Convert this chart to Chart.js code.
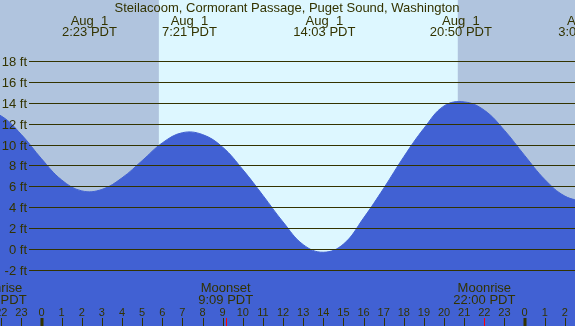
<!DOCTYPE html>
<html><head><meta charset="utf-8">
<style>html,body{margin:0;padding:0;background:#fff;overflow:hidden}#wrap{width:575px;height:326px}</style>
<script src="https://cdn.jsdelivr.net/npm/chart.js@4/dist/chart.umd.min.js"></script>
</head><body><div id="wrap"><canvas id="c" width="575" height="326"></canvas></div>
<script>
const title = 'Steilacoom, Cormorant Passage, Puget Sound, Washington';
// tide height at each hour (hours from Aug 1 00:00, feet)
const tideHours = [-3, -2, -1, 0, 1, 2, 3, 4, 5, 6, 7, 8, 9, 10, 11, 12, 13, 14, 15, 16, 17, 18, 19, 20, 21, 22, 23, 24, 25, 26, 27];
const tideFeet  = [13.4, 12.78, 11.0, 8.68, 6.65, 5.6, 5.74, 6.85, 8.5, 10.2, 11.18, 11.0, 9.79, 7.64, 5.17, 2.62, 0.45, -0.28, 0.5, 3.0, 5.85, 8.88, 11.6, 13.75, 14.13, 13.33, 11.4, 9.0, 6.7, 5.1, 4.55];
const extremeHours = [2.383, 7.35, 14.05, 20.833, 27.033];
const extremeDates = ['Aug  1', 'Aug  1', 'Aug  1', 'Aug  1', 'Aug  2'];
const extremeTimes = ['2:23 PDT', '7:21 PDT', '14:03 PDT', '20:50 PDT', '3:02 PDT'];
const moonHours = [-2.283, 9.15, 22.0];
const moonNames = ['Moonrise', 'Moonset', 'Moonrise'];
const moonTimes = ['21:43 PDT', '9:09 PDT', '22:00 PDT'];
const sunHours = [5.83, 20.68];
const hourTicks = [];
for (let h = -2; h <= 26; h++) hourTicks.push(h);
const yTicks = [-2, 0, 2, 4, 6, 8, 10, 12, 14, 16, 18];
const xRange = [-2.062, 26.503];
const yRange = [-7.35, 23.90];

const TXT = '#333300';
const FONT13 = '13px "Liberation Sans", Arial, sans-serif';
const FONT11 = '11px "Liberation Sans", Arial, sans-serif';

const tidePlugin = {
  id: 'tidePlugin',
  beforeDatasetsDraw(chart) {
    const ctx = chart.ctx, xs = chart.scales.x;
    ctx.save();
    ctx.fillStyle = '#b0c4de';
    ctx.fillRect(0, 0, chart.width, chart.height);
    const x1 = xs.getPixelForValue(sunHours[0]);
    const x2 = xs.getPixelForValue(sunHours[1]);
    ctx.fillStyle = '#ddf7ff';
    ctx.fillRect(x1, 0, x2 - x1, chart.height);
    ctx.restore();
  },
  afterDatasetsDraw(chart) {
    const ctx = chart.ctx, xs = chart.scales.x, ys = chart.scales.y;
    ctx.save();
    ctx.strokeStyle = TXT;
    ctx.lineWidth = 1;
    ctx.fillStyle = TXT;
    ctx.font = FONT13;
    ctx.textAlign = 'right';
    ctx.textBaseline = 'alphabetic';
    yTicks.forEach(v => {
      const y = Math.floor(ys.getPixelForValue(v)) + 0.5;
      ctx.beginPath();
      ctx.moveTo(29, y);
      ctx.lineTo(chart.width, y);
      ctx.stroke();
      ctx.fillText(v + ' ft', 27, y + 4);
    });
    ctx.textAlign = 'center';
    ctx.fillText(title, 287, 12);
    extremeHours.forEach((h, i) => {
      const x = xs.getPixelForValue(h);
      ctx.fillText(extremeDates[i], x, 24.5);
      ctx.fillText(extremeTimes[i], x, 35.5);
    });
    moonHours.forEach((h, i) => {
      const x = xs.getPixelForValue(h);
      ctx.fillText(moonNames[i], x, 291.5);
      ctx.fillText(moonTimes[i], x, 303.5);
    });
    ctx.font = FONT11;
    hourTicks.forEach(h => {
      const x = xs.getPixelForValue(h);
      const lab = String(((h % 24) + 24) % 24);
      ctx.fillText(lab, x, 316);
      if (lab === '0') {
        ctx.fillRect(Math.round(x) - 1.5, 318, 3, 8);
      } else {
        const px = Math.round(x) + 0.5;
        ctx.beginPath();
        ctx.moveTo(px, 318);
        ctx.lineTo(px, 326);
        ctx.stroke();
      }
    });
    ctx.strokeStyle = '#ff0000';
    moonHours.forEach(h => {
      const px = Math.round(xs.getPixelForValue(h)) + 0.5;
      ctx.beginPath();
      ctx.moveTo(px, 318);
      ctx.lineTo(px, 326);
      ctx.stroke();
    });
    ctx.restore();
  }
};

new Chart(document.getElementById('c'), {
  type: 'line',
  data: {
    datasets: [{
      data: tideHours.map((h, i) => ({ x: h, y: tideFeet[i] })),
      borderColor: '#4161d3',
      backgroundColor: '#4161d3',
      borderWidth: 1,
      pointRadius: 0,
      fill: 'start',
      tension: 0.4
    }]
  },
  options: {
    responsive: false,
    animation: false,
    devicePixelRatio: 1,
    layout: { padding: 0 },
    plugins: { legend: { display: false }, tooltip: { enabled: false }, title: { display: false } },
    scales: {
      x: { type: 'linear', min: xRange[0], max: xRange[1], display: false },
      y: { type: 'linear', min: yRange[0], max: yRange[1], display: false }
    }
  },
  plugins: [tidePlugin]
});
</script>
</body></html>
